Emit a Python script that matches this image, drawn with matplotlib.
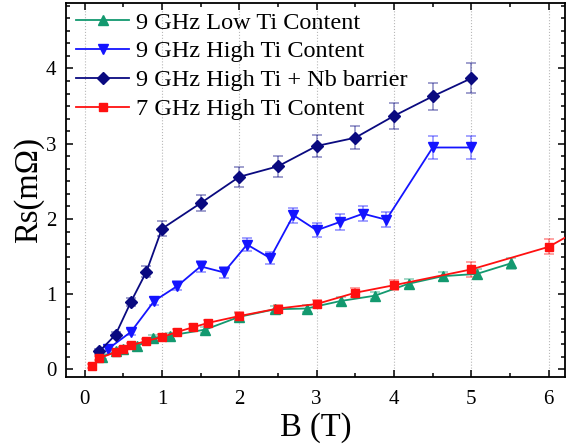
import matplotlib
matplotlib.use("Agg")
import matplotlib.pyplot as plt
from matplotlib.ticker import MultipleLocator, AutoMinorLocator

# ---- data ----
b_low = [0.22, 0.41, 0.50, 0.68, 0.88, 1.10, 1.56, 2.00, 2.46, 2.87, 3.31, 3.75, 4.19, 4.63, 5.07, 5.51]
rs_low = [0.17, 0.24, 0.27, 0.31, 0.42, 0.45, 0.53, 0.70, 0.80, 0.81, 0.91, 0.98, 1.14, 1.24, 1.27, 1.41]
err_low = [0.03, 0.03, 0.03, 0.03, 0.04, 0.04, 0.04, 0.05, 0.05, 0.05, 0.05, 0.05, 0.06, 0.06, 0.07, 0.07]

b_high = [0.30, 0.60, 0.90, 1.20, 1.50, 1.80, 2.10, 2.40, 2.70, 3.00, 3.30, 3.60, 3.90, 4.50, 5.00]
rs_high = [0.27, 0.50, 0.91, 1.11, 1.37, 1.29, 1.66, 1.48, 2.05, 1.85, 1.96, 2.07, 1.99, 2.95, 2.95]
err_high = [0.03, 0.04, 0.05, 0.06, 0.07, 0.07, 0.09, 0.08, 0.10, 0.09, 0.10, 0.10, 0.10, 0.15, 0.15]

b_nb = [0.19, 0.40, 0.60, 0.80, 1.00, 1.50, 2.00, 2.50, 3.00, 3.50, 4.00, 4.50, 5.00]
rs_nb = [0.24, 0.46, 0.90, 1.30, 1.87, 2.21, 2.56, 2.70, 2.97, 3.08, 3.37, 3.63, 3.87]
err_nb = [0.03, 0.04, 0.05, 0.07, 0.10, 0.11, 0.13, 0.14, 0.15, 0.15, 0.17, 0.18, 0.20]

b_7g = [0.10, 0.19, 0.40, 0.50, 0.60, 0.80, 1.00, 1.20, 1.40, 1.60, 2.00, 2.50, 3.00, 3.50, 4.00, 5.00, 6.00, 6.50]
rs_7g = [0.045, 0.15, 0.23, 0.27, 0.32, 0.38, 0.43, 0.50, 0.56, 0.62, 0.71, 0.81, 0.87, 1.02, 1.12, 1.33, 1.63, 1.92]
err_7g = [0.03, 0.03, 0.03, 0.03, 0.03, 0.03, 0.04, 0.04, 0.04, 0.04, 0.05, 0.05, 0.05, 0.06, 0.07, 0.10, 0.10, 0.10]

labels = ["9 GHz Low Ti Content", "9 GHz High Ti Content",
          "9 GHz High Ti + Nb barrier", "7 GHz High Ti Content"]

plt.rcParams["font.family"] = ["Liberation Serif", "DejaVu Serif"]

fig = plt.figure(figsize=(5.66, 4.44), dpi=100)
ax = fig.add_axes([0.1166, 0.1509, 0.8816, 0.8423])

series = [
    (b_low, rs_low, err_low, "#13996f", "^", 7.5),
    (b_high, rs_high, err_high, "#1414ff", "v", 7.5),
    (b_nb, rs_nb, err_nb, "#0a0a80", "D", 6.5),
    (b_7g, rs_7g, err_7g, "#ff1010", "s", 6),
]

handles = []
for (x, y, e, c, m, ms), lab in zip(series, labels):
    # error bars drawn lighter, like the original
    ax.errorbar(x, y, yerr=e, fmt="none", ecolor=c, alpha=0.45,
                elinewidth=1.2, capsize=3.5, capthick=1.2, zorder=2)
    h, = ax.plot(x, y, color=c, marker=m, markersize=ms, linewidth=1.3,
                 label=lab, zorder=3)
    handles.append(h)

ax.set_xlim(-0.24, 6.21)
ax.set_ylim(-0.10, 4.87)

ax.xaxis.set_major_locator(MultipleLocator(1))
ax.xaxis.set_minor_locator(MultipleLocator(0.5))
ax.yaxis.set_major_locator(MultipleLocator(1))
ax.yaxis.set_minor_locator(AutoMinorLocator(6))
ax.tick_params(which="both", direction="in", top=True, right=True,
               labelsize=15, width=1.1)
ax.tick_params(which="major", length=5)
ax.tick_params(which="minor", length=3)
ax.tick_params(axis="x", which="major", pad=9)
ax.tick_params(axis="y", which="major", pad=7)
for s in ax.spines.values():
    s.set_linewidth(1.3)

ax.grid(axis="x", which="major", linestyle=":", color="#b8b8b8", linewidth=0.8)

ax.set_xlabel("B (T)", fontsize=23.5, labelpad=3)
ax.set_ylabel("Rs(mΩ)", fontsize=23.5, labelpad=1)

ax.legend(handles=handles, loc="upper left", bbox_to_anchor=(0.021, 0.977),
          frameon=False, fontsize=17.5, handlelength=2.15, handletextpad=0.3,
          labelspacing=0.28, borderpad=0, borderaxespad=0)

fig.savefig("out.png", dpi=100)
